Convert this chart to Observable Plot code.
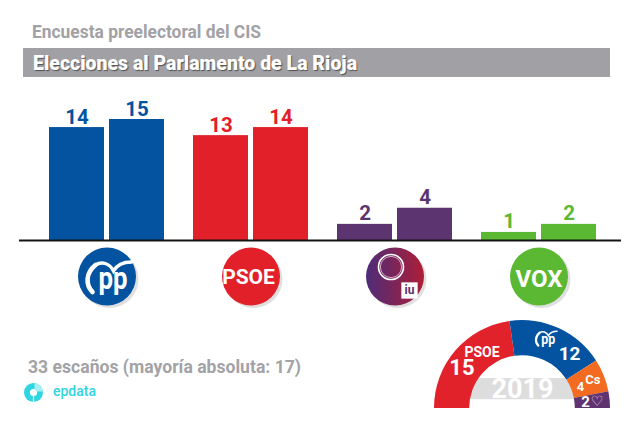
<!DOCTYPE html>
<html>
<head>
<meta charset="utf-8">
<script src="https://cdn.jsdelivr.net/npm/d3@7"></script>
<script src="https://cdn.jsdelivr.net/npm/@observablehq/plot@0.6"></script>
<style>
  html, body { margin: 0; padding: 0; background: #fff; }
  #root { position: relative; width: 640px; height: 427px; overflow: hidden; background: #fff; font-family: Roboto, "Noto Sans", sans-serif; }
  .abs { position: absolute; white-space: nowrap; }
  #subtitle { left: 32px; top: 22.5px; font-size: 18px; line-height: 18px; font-weight: 700; color: #a2a1a6; transform-origin: 0 50%; }
  #banner { left: 23px; top: 48px; width: 587px; height: 28.5px; background: #a1a0a4; }
  #title { left: 33px; top: 53px; font-size: 20px; line-height: 20px; font-weight: 900; color: #fff; text-shadow: 1px 1px 1px rgba(0,0,0,.5); transform-origin: 0 50%; }
  #seats { left: 28px; top: 358px; font-size: 18px; line-height: 18px; font-weight: 700; color: #a3a2a7; transform-origin: 0 50%; }
  #brand { left: 53px; top: 384px; font-size: 14px; line-height: 14px; font-weight: 500; color: #31d4df; }
  #brandLogo { position: absolute; left: 23px; top: 382px; }
  #chart { position: absolute; left: 0; top: 80px; }
  #hemi { position: absolute; left: 420px; top: 310px; }
</style>
</head>
<body>
<div id="root">
  <div id="subtitle" class="abs"></div>
  <div id="banner" class="abs"></div>
  <div id="title" class="abs"></div>
  <div id="chart"></div>
  <div id="hemi"></div>
  <div id="seats" class="abs"></div>
  <svg id="brandLogo" width="21" height="21" viewBox="0 0 21 21">
    <circle cx="10.5" cy="10.5" r="9.5" fill="#2fd6e2"/>
    <path d="M11.5 1.1 A9.5 9.5 0 0 1 19.9 9.5 L14.2 9.5 A4 4 0 0 0 11.5 6.8 Z" fill="#a8eef3"/>
    <circle cx="10.5" cy="10.5" r="3.6" fill="#fff"/>
    <path d="M10.5 14 L10.5 20" stroke="#fff" stroke-width="1.2"/>
  </svg>
  <div id="brand" class="abs"></div>
</div>
<script>
// ---------- data ----------
const parties = ["PP", "PSOE", "Unidas Podemos", "Vox"];
const seatsLow = [14, 13, 2, 1];
const seatsHigh = [15, 14, 4, 2];
const partyColors = ["#0453a0", "#e1202a", "#5c3470", "#5bb833"];
const logoLabels = ["pp", "PSOE", "", "VOX"];

const results2019Parties = ["PSOE", "PP", "Cs", "Podemos"];
const results2019Seats = [15, 12, 4, 2];
const results2019Colors = ["#e2222b", "#0453a0", "#f36b21", "#5e3370"];
const electionYear = "2019";
const totalSeats = 33;
const majoritySeats = 17;

const subtitleText = "Encuesta preelectoral del CIS";
const titleText = "Elecciones al Parlamento de La Rioja";
const sourceText = "epdata";

// ---------- texts ----------
document.getElementById("subtitle").textContent = subtitleText;
document.getElementById("title").textContent = titleText;
document.getElementById("seats").textContent = `${totalSeats} escaños (mayoría absoluta: ${majoritySeats})`;
document.getElementById("brand").textContent = sourceText;

const FONT = "Roboto, 'DejaVu Sans', sans-serif";
const rows = parties.map((party, i) => ({party, low: seatsLow[i], high: seatsHigh[i], color: partyColors[i], logo: logoLabels[i]}));
const LOGO_R = 29, LOGO_DY = 36;

function drawPP(g, tx, ty, s, color) {
  const t = g.append("g").attr("transform", `translate(${tx},${ty}) scale(${s})`);
  t.append("path").attr("d", "M-14,16 C-21,9 -21,-3 -11,-11")
    .attr("fill", "none").attr("stroke", color).attr("stroke-width", 4.6).attr("stroke-linecap", "round");
  t.append("path").attr("d", "M-11,-11 C-5,-15 3,-13 7,-5 C11,-12 17,-14 25,-14")
    .attr("fill", "none").attr("stroke", color).attr("stroke-width", 3.4).attr("stroke-linecap", "round");
  t.append("text").attr("x", 6.5).attr("y", 13).attr("text-anchor", "middle")
    .attr("font-size", 32).attr("font-weight", 700).attr("font-family", FONT).attr("fill", color)
    .attr("textLength", 29).attr("lengthAdjust", "spacingAndGlyphs").text("pp");
}

function defsMark() {
  const defs = d3.create("svg:defs");
  const lg = defs.append("linearGradient").attr("id", "podGrad").attr("x1", 0).attr("x2", 1).attr("y1", 0).attr("y2", 0);
  lg.append("stop").attr("offset", "0%").attr("stop-color", "#4d2c79");
  lg.append("stop").attr("offset", "100%").attr("stop-color", "#ad1e37");
  return defs.node();
}

function ppLogoMark(index, scales, values, dims) {
  const x = scales.x;
  const g = d3.create("svg:g");
  const cx = x(parties[0]) + x.bandwidth() / 2;
  const cy = dims.height - dims.marginBottom + LOGO_DY;
  drawPP(g, cx, cy, 1, "#fff");
  return g.node();
}

const podRows = rows.filter(d => d.party === parties[2]);
const psoeRows = rows.filter(d => d.party === parties[1]);
const voxRows = rows.filter(d => d.party === parties[3]);

const chart = Plot.plot({
  width: 640, height: 250,
  marginLeft: 19, marginRight: 19, marginTop: 39, marginBottom: 90,
  style: {background: "transparent", overflow: "visible", fontFamily: FONT},
  x: {type: "band", domain: parties, paddingInner: 0.204, paddingOuter: 0.1855, align: 0.547, axis: null},
  y: {domain: [0, 15], axis: null},
  color: {type: "identity"},
  marks: [
    defsMark,
    Plot.barY(rows, {x: "party", y: "low", fill: "color", insetRight: 60}),
    Plot.barY(rows, {x: "party", y: "high", fill: "color", insetLeft: 60}),
    Plot.text(rows, {x: "party", y: "low", text: d => String(d.low), fill: "color", dx: -30, dy: -4, lineAnchor: "bottom", fontSize: 20.5, fontWeight: 700}),
    Plot.text(rows, {x: "party", y: "high", text: d => String(d.high), fill: "color", dx: 30, dy: -4, lineAnchor: "bottom", fontSize: 20.5, fontWeight: 700}),
    Plot.ruleY([0], {stroke: "#141414", strokeWidth: 2}),
    // logo shadows and discs
    Plot.dot(rows, {x: "party", frameAnchor: "bottom", dx: 2.5, dy: LOGO_DY + 2.5, r: LOGO_R, fill: "#c4c4c4", fillOpacity: 0.55}),
    Plot.dot(rows, {x: "party", frameAnchor: "bottom", dy: LOGO_DY, r: LOGO_R, fill: d => d.party === parties[2] ? "url(#podGrad)" : d.color}),
    // PP
    ppLogoMark,
    // PSOE & VOX wordmarks
    Plot.text(psoeRows, {x: "party", frameAnchor: "bottom", dx: -2.5, dy: LOGO_DY + 1, text: "logo", fill: "#fff", fontSize: 21, fontWeight: 700, lineAnchor: "middle", ariaLabel: "logo-psoe"}),
    Plot.text(voxRows, {x: "party", frameAnchor: "bottom", dy: LOGO_DY + 2.5, text: "logo", fill: "#fff", fontSize: 24, fontWeight: 700, lineAnchor: "middle", ariaLabel: "logo-vox"}),
    // Unidas Podemos / IU
    Plot.dot(podRows, {x: "party", frameAnchor: "bottom", dx: -4, dy: LOGO_DY - 9.5, r: 12.5, stroke: "#fff", strokeWidth: 1.6, fill: "none"}),
    Plot.dot(podRows, {x: "party", frameAnchor: "bottom", dx: -4, dy: LOGO_DY - 9.5, r: 10.6, stroke: "#f1c9dc", strokeWidth: 0.8, fill: "none"}),
    Plot.dot(podRows, {x: "party", frameAnchor: "bottom", dx: 14.5, dy: LOGO_DY + 14, r: 9.2, symbol: "square", fill: "#fff"}),
    Plot.text(podRows, {x: "party", frameAnchor: "bottom", dx: 14.5, dy: LOGO_DY + 14, text: () => "iu", fill: "#5a2f73", fontSize: 12, fontWeight: 700, lineAnchor: "middle"})
  ]
});
document.getElementById("chart").appendChild(chart);
d3.select(chart).selectAll('g[aria-label="logo-psoe"] text').attr("textLength", 46).attr("lengthAdjust", "spacingAndGlyphs");
d3.select(chart).selectAll('g[aria-label="logo-vox"] text').attr("textLength", 46).attr("lengthAdjust", "spacingAndGlyphs");

// ---------- hemicycle 2019 ----------
const INNER = 0.6;
const hemiRows = results2019Parties.map((party, i) => ({party, seats: results2019Seats[i], color: results2019Colors[i]}));
const arcs = d3.pie().value(d => d.seats).sort(null).startAngle(-Math.PI / 2).endAngle(Math.PI / 2)(hemiRows);
arcs.forEach(a => {
  const mid = (a.startAngle + a.endAngle) / 2, rm = (1 + INNER) / 2;
  a.data.cx = rm * Math.sin(mid);
  a.data.cy = rm * Math.cos(mid);
});
const byParty = p => hemiRows.filter(d => d.party === p);

function hemiMark(index, scales, values, dims) {
  const x = scales.x, y = scales.y;
  const cx = x(0), cy = y(0), R = x(1) - x(0), r = INNER * R;
  const g = d3.create("svg:g");
  g.append("rect").attr("x", cx - r).attr("y", y(0.34)).attr("width", 2 * r + 3).attr("height", y(0.1) - y(0.34)).attr("fill", "#dddddd");
  g.append("text").attr("x", cx + 0.5).attr("y", y(0.114)).attr("text-anchor", "middle")
    .attr("font-size", 27).attr("font-weight", 700).attr("font-family", FONT).attr("fill", "#fff").text(electionYear);
  const arc = d3.arc().innerRadius(r).outerRadius(R);
  g.append("g").attr("transform", `translate(${cx},${cy})`)
    .selectAll("path").data(arcs).join("path").attr("d", arc).attr("fill", d => d.data.color);
  // PP mini logo near its centroid
  const pp = hemiRows.find(d => d.party === "PP");
  drawPP(g, x(pp.cx) - 6.2, y(pp.cy) - 6, 0.48, "#fff");
  return g.node();
}

const lbl = (p, text, o) => Plot.text(byParty(p), {x: "cx", y: "cy", text: () => text, fill: o.fill || "#fff", fontSize: o.size, fontWeight: 700, dx: o.dx, dy: o.dy, lineAnchor: "middle"});
const seatsOf = p => String(hemiRows.find(d => d.party === p).seats);

const hemi = Plot.plot({
  width: 210, height: 110,
  marginLeft: 14, marginRight: 20, marginTop: 10, marginBottom: 12,
  style: {background: "transparent", overflow: "visible", fontFamily: FONT},
  x: {domain: [-1, 1], axis: null},
  y: {domain: [0, 1], axis: null},
  marks: [
    hemiMark,
    lbl("PSOE", "PSOE", {size: 14, dx: 12.7, dy: -9.7}),
    lbl("PSOE", seatsOf("PSOE"), {size: 22, dx: -7.3, dy: 5.8}),
    lbl("PP", seatsOf("PP"), {size: 19, dx: 17.8, dy: 9.7}),
    lbl("Cs", seatsOf("Cs"), {size: 13, dx: -7.4, dy: 4.1}),
    lbl("Cs", "Cs", {size: 13, dx: 5, dy: -3}),
    lbl("Podemos", seatsOf("Podemos"), {size: 15, dx: -7, dy: 0}),
    lbl("Podemos", "♡", {size: 14, dx: 4.5, dy: 0, fill: "#f6d9ec"})
  ]
});
document.getElementById("hemi").appendChild(hemi);

// ---------- fit header/footer text widths ----------
function fitWidth(id, target) {
  const el = document.getElementById(id);
  el.style.transform = "none";
  const w = el.getBoundingClientRect().width;
  if (w > 0) el.style.transform = `scaleX(${target / w})`;
}
function fitAll() {
  fitWidth("subtitle", 229);
  fitWidth("title", 324);
  fitWidth("seats", 273);
}
fitAll();
if (document.fonts && document.fonts.ready) document.fonts.ready.then(fitAll);
</script>
</body>
</html>
